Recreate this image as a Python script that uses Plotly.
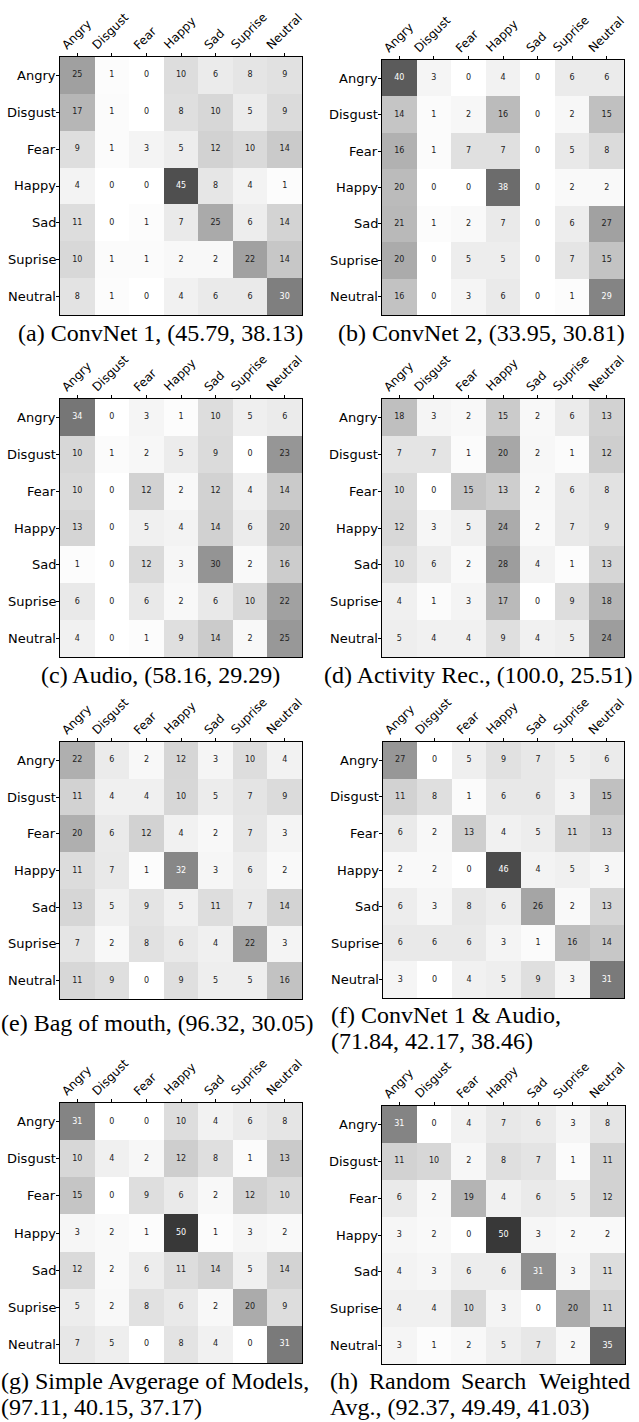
import plotly.graph_objects as go

labels = ["Angry", "Disgust", "Fear", "Happy", "Sad", "Suprise", "Neutral"]

cm_a = [[25, 1, 0, 10, 6, 8, 9],
        [17, 1, 0, 8, 10, 5, 9],
        [9, 1, 3, 5, 12, 10, 14],
        [4, 0, 0, 45, 8, 4, 1],
        [11, 0, 1, 7, 25, 6, 14],
        [10, 1, 1, 2, 2, 22, 14],
        [8, 1, 0, 4, 6, 6, 30]]
cm_b = [[40, 3, 0, 4, 0, 6, 6],
        [14, 1, 2, 16, 0, 2, 15],
        [16, 1, 7, 7, 0, 5, 8],
        [20, 0, 0, 38, 0, 2, 2],
        [21, 1, 2, 7, 0, 6, 27],
        [20, 0, 5, 5, 0, 7, 15],
        [16, 0, 3, 6, 0, 1, 29]]
cm_c = [[34, 0, 3, 1, 10, 5, 6],
        [10, 1, 2, 5, 9, 0, 23],
        [10, 0, 12, 2, 12, 4, 14],
        [13, 0, 5, 4, 14, 6, 20],
        [1, 0, 12, 3, 30, 2, 16],
        [6, 0, 6, 2, 6, 10, 22],
        [4, 0, 1, 9, 14, 2, 25]]
cm_d = [[18, 3, 2, 15, 2, 6, 13],
        [7, 7, 1, 20, 2, 1, 12],
        [10, 0, 15, 13, 2, 6, 8],
        [12, 3, 5, 24, 2, 7, 9],
        [10, 6, 2, 28, 4, 1, 13],
        [4, 1, 3, 17, 0, 9, 18],
        [5, 4, 4, 9, 4, 5, 24]]
cm_e = [[22, 6, 2, 12, 3, 10, 4],
        [11, 4, 4, 10, 5, 7, 9],
        [20, 6, 12, 4, 2, 7, 3],
        [11, 7, 1, 32, 3, 6, 2],
        [13, 5, 9, 5, 11, 7, 14],
        [7, 2, 8, 6, 4, 22, 3],
        [11, 9, 0, 9, 5, 5, 16]]
cm_f = [[27, 0, 5, 9, 7, 5, 6],
        [11, 8, 1, 6, 6, 3, 15],
        [6, 2, 13, 4, 5, 11, 13],
        [2, 2, 0, 46, 4, 5, 3],
        [6, 3, 8, 6, 26, 2, 13],
        [6, 6, 6, 3, 1, 16, 14],
        [3, 0, 4, 5, 9, 3, 31]]
cm_g = [[31, 0, 0, 10, 4, 6, 8],
        [10, 4, 2, 12, 8, 1, 13],
        [15, 0, 9, 6, 2, 12, 10],
        [3, 2, 1, 50, 1, 3, 2],
        [12, 2, 6, 11, 14, 5, 14],
        [5, 2, 8, 6, 2, 20, 9],
        [7, 5, 0, 8, 4, 0, 31]]
cm_h = [[31, 0, 4, 7, 6, 3, 8],
        [11, 10, 2, 8, 7, 1, 11],
        [6, 2, 19, 4, 6, 5, 12],
        [3, 2, 0, 50, 3, 2, 2],
        [4, 3, 6, 6, 31, 3, 11],
        [4, 4, 10, 3, 0, 20, 11],
        [3, 1, 2, 5, 7, 2, 35]]

matrices = [cm_a, cm_b, cm_c, cm_d, cm_e, cm_f, cm_g, cm_h]

# pixel boxes of each heatmap (x0, x1, y0, y1), y measured from top
W, H = 639, 1422
boxes = [(60, 302, 57, 315), (382, 624, 60, 315),
         (60, 302, 399, 657), (382, 624, 399, 657),
         (60, 302, 742, 999), (383, 624, 742, 998),
         (60, 302, 1103, 1363), (382, 625, 1106, 1364)]

grey_stops = [255, 231, 204, 174, 139, 105, 73, 35, 0]
greys = [[i / 8, f"rgb({g},{g},{g})"] for i, g in enumerate(grey_stops)]

fig = go.Figure()
SANS = "DejaVu Sans"
SERIF = "Liberation Serif"
n = len(labels)
idx = list(range(n))

for k, (cm, box) in enumerate(zip(matrices, boxes), start=1):
    xa = "x" if k == 1 else f"x{k}"
    ya = "y" if k == 1 else f"y{k}"
    norm = [[v / sum(row) for v in row] for row in cm]
    fig.add_trace(go.Heatmap(z=norm, x=idx, y=idx, zmin=0, zmax=1,
                             colorscale=greys,
                             showscale=False, hoverinfo="skip",
                             xaxis=xa, yaxis=ya))
    tx, ty, tt, tc = [], [], [], []
    for i in range(n):
        for j in range(n):
            tx.append(j)
            ty.append(i)
            tt.append(str(cm[i][j]))
            tc.append("#ffffff" if norm[i][j] > 0.475 else "#222222")
    fig.add_trace(go.Scatter(x=tx, y=ty, text=tt, mode="text",
                             textfont=dict(family=SANS, size=8, color=tc),
                             showlegend=False, hoverinfo="skip",
                             xaxis=xa, yaxis=ya))
    x0, x1, y0, y1 = box
    axkey = "xaxis" if k == 1 else f"xaxis{k}"
    aykey = "yaxis" if k == 1 else f"yaxis{k}"
    fig.update_layout(**{
        axkey: dict(domain=[x0 / W, x1 / W], anchor=ya, side="top",
                    range=[-0.5, n - 0.5], tickvals=idx, showticklabels=False,
                    ticks="outside", ticklen=3, tickcolor="#000",
                    showgrid=False, zeroline=False, showline=True,
                    linecolor="#000", linewidth=1, mirror=True),
        aykey: dict(domain=[1 - y1 / H, 1 - y0 / H], anchor=xa,
                    range=[n - 0.5, -0.5], tickvals=idx, showticklabels=False,
                    ticks="outside", ticklen=3, tickcolor="#000",
                    showgrid=False, zeroline=False, showline=True,
                    linecolor="#000", linewidth=1, mirror=True),
    })
    for j, lab in enumerate(labels):
        fig.add_annotation(x=j, y=1, xref=xa, yref=f"{ya} domain",
                           text=lab, textangle=-45, showarrow=False,
                           xanchor="center", yanchor="bottom", yshift=2,
                           xshift=-1,
                           font=dict(family=SANS, size=12, color="#000"))
    for i, lab in enumerate(labels):
        fig.add_annotation(x=(x0 - 2) / W, y=i, xref="paper", yref=ya,
                           text=lab, showarrow=False,
                           xanchor="right", yanchor="middle",
                           font=dict(family=SANS, size=13, color="#000"))

cap_font = dict(family=SERIF, size=24, color="#000")


def cap(text, x, y, anchor="center"):
    fig.add_annotation(x=x / W, y=1 - y / H, xref="paper", yref="paper",
                       text=text, showarrow=False, xanchor=anchor,
                       yanchor="middle", font=cap_font, borderpad=0)


cap("(a) ConvNet 1, (45.79, 38.13)", 161, 333)
cap("(b) ConvNet 2, (33.95, 30.81)", 481, 333)
cap("(c) Audio, (58.16, 29.29)", 161, 675)
cap("(d) Activity Rec., (100.0, 25.51)", 478, 675)
cap("(e) Bag of mouth, (96.32, 30.05)", 157, 1023)
cap("(f) ConvNet 1 &amp; Audio,", 330, 1015, "left")
cap("(71.84, 42.17, 38.46)", 330, 1041, "left")
cap("(g) Simple Avgerage of Models,", 0, 1381, "left")
cap("(97.11, 40.15, 37.17)", 0, 1407, "left")
for word, xpos in [("(h)", 329), ("Random", 368), ("Search", 460)]:
    cap(word, xpos, 1381, "left")
cap("Weighted", 631, 1381, "right")
cap("Avg., (92.37, 49.49, 41.03)", 329, 1407, "left")

fig.update_layout(width=W, height=H, margin=dict(l=0, r=0, t=0, b=0),
                  paper_bgcolor="#fff", plot_bgcolor="#fff", showlegend=False)

fig.write_html(
    "out.html",
    config={"displayModeBar": False},
    post_script="document.body.style.margin='0';"
                "document.body.style.padding='0';"
                "document.documentElement.style.overflow='hidden';",
)
